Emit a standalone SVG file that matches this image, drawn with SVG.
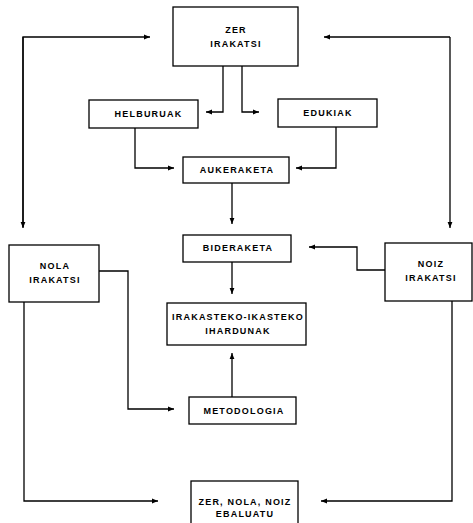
<svg xmlns="http://www.w3.org/2000/svg" width="473" height="523" viewBox="0 0 473 523">
<defs>
<style>
.box{fill:#fff;stroke:#000;stroke-width:1.3}
.t{font-family:"Liberation Sans",Arial,sans-serif;font-weight:bold;font-size:9px;letter-spacing:1.2px;text-anchor:middle;fill:#000}
.c{fill:none;stroke:#000;stroke-width:1.3}
</style>
<marker id="a" viewBox="0 0 10 10" refX="10" refY="5" markerWidth="6" markerHeight="6" markerUnits="userSpaceOnUse" orient="auto">
<path d="M0,1 L10,5 L0,9 Z" fill="#000"/>
</marker>
</defs>
<rect width="473" height="523" fill="#fff"/>
<g id="connectors">
<path class="c" d="M23,227 V37 H150" marker-end="url(#a)"/>
<path class="c" d="M23,37 V228" marker-end="url(#a)"/>
<path class="c" d="M450,37 H324" marker-end="url(#a)"/>
<path class="c" d="M450,37 V228" marker-end="url(#a)"/>
<path class="c" d="M223,66 V112 H206" marker-end="url(#a)"/>
<path class="c" d="M242,66 V112 H259" marker-end="url(#a)"/>
<path class="c" d="M135,128 V168 H174" marker-end="url(#a)"/>
<path class="c" d="M336,127 V168 H296" marker-end="url(#a)"/>
<path class="c" d="M232,183 V224" marker-end="url(#a)"/>
<path class="c" d="M385,270 H357 V247 H309" marker-end="url(#a)"/>
<path class="c" d="M232,262 V294" marker-end="url(#a)"/>
<path class="c" d="M232,397 V353" marker-end="url(#a)"/>
<path class="c" d="M99,271 H128 V409 H174" marker-end="url(#a)"/>
<path class="c" d="M24,302 V501 H158" marker-end="url(#a)"/>
<path class="c" d="M452,301 V501 H321" marker-end="url(#a)"/>
</g>
<g id="zer-irakatsi">
<rect class="box" x="173" y="7" width="125" height="59"/>
<text class="t" x="236" y="33">ZER</text>
<text class="t" x="236" y="47">IRAKATSI</text>
</g>
<g id="helburuak">
<rect class="box" x="89" y="100" width="109" height="28"/>
<text class="t" x="148.5" y="117">HELBURUAK</text>
</g>
<g id="edukiak">
<rect class="box" x="278" y="99" width="99" height="28"/>
<text class="t" x="328" y="116">EDUKIAK</text>
</g>
<g id="aukeraketa">
<rect class="box" x="183" y="157" width="106" height="26"/>
<text class="t" x="237" y="173">AUKERAKETA</text>
</g>
<g id="bideraketa">
<rect class="box" x="183" y="235" width="108" height="27"/>
<text class="t" x="238" y="251">BIDERAKETA</text>
</g>
<g id="nola-irakatsi">
<rect class="box" x="9" y="245" width="90" height="57"/>
<text class="t" x="55" y="269">NOLA</text>
<text class="t" x="55" y="283">IRAKATSI</text>
</g>
<g id="noiz-irakatsi">
<rect class="box" x="385" y="243" width="87" height="58"/>
<text class="t" x="431" y="267">NOIZ</text>
<text class="t" x="431" y="281">IRAKATSI</text>
</g>
<g id="irakasteko">
<rect class="box" x="167" y="303" width="139" height="42"/>
<text class="t" x="238" y="320">IRAKASTEKO-IKASTEKO</text>
<text class="t" x="238" y="334">IHARDUNAK</text>
</g>
<g id="metodologia">
<rect class="box" x="189" y="397" width="107" height="27"/>
<text class="t" x="244" y="414">METODOLOGIA</text>
</g>
<g id="ebaluatu">
<rect class="box" x="191" y="481" width="107" height="50"/>
<text class="t" x="245" y="505">ZER, NOLA, NOIZ</text>
<text class="t" x="245" y="517">EBALUATU</text>
</g>
</svg>
